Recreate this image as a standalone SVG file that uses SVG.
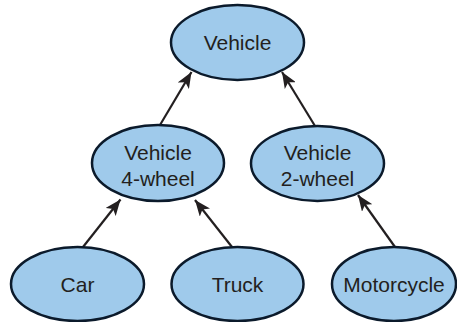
<svg xmlns="http://www.w3.org/2000/svg" width="457" height="322" viewBox="0 0 457 322">
<style>
.node ellipse{fill:#9fcaeb;stroke:#0b1a2b;stroke-width:2.5}
.node text{font-family:"Liberation Sans",Arial,sans-serif;font-size:21px;fill:#231f20;text-anchor:middle}
.edge{stroke:#231f20;stroke-width:2.2;fill:none;marker-end:url(#ah)}
</style>
<defs>
<marker id="ah" markerUnits="userSpaceOnUse" markerWidth="17" markerHeight="13" refX="16" refY="6.5" orient="auto" viewBox="0 0 17 13">
<path d="M0,0 L16,6.5 L0,13 L4,6.5 z" fill="#231f20"/>
</marker>
</defs>
<rect width="457" height="322" fill="#fff"/>
<g id="connectors">
<line class="edge" x1="83" y1="247" x2="120.5" y2="199.5"/>
<line class="edge" x1="232" y1="247" x2="195" y2="200"/>
<line class="edge" x1="395" y1="247" x2="358" y2="195"/>
<line class="edge" x1="160" y1="125" x2="191.5" y2="72"/>
<line class="edge" x1="315" y1="126" x2="282" y2="72"/>
</g>
<g id="vehicle" class="node">
<ellipse cx="237.5" cy="42.5" rx="66.5" ry="37.5"/>
<text x="237.5" y="50">Vehicle</text>
</g>
<g id="vehicle4" class="node">
<ellipse cx="158" cy="163" rx="66" ry="38"/>
<text x="158" y="160">Vehicle</text>
<text x="158" y="186">4-wheel</text>
</g>
<g id="vehicle2" class="node">
<ellipse cx="317.5" cy="163.5" rx="66.5" ry="37.5"/>
<text x="317.5" y="160">Vehicle</text>
<text x="317.5" y="186">2-wheel</text>
</g>
<g id="car" class="node">
<ellipse cx="77.5" cy="284" rx="66.5" ry="37"/>
<text x="77.5" y="292">Car</text>
</g>
<g id="truck" class="node">
<ellipse cx="237.5" cy="284" rx="66" ry="37"/>
<text x="237.5" y="292">Truck</text>
</g>
<g id="motorcycle" class="node">
<ellipse cx="394" cy="284" rx="62" ry="37"/>
<text x="394" y="292">Motorcycle</text>
</g>
</svg>
